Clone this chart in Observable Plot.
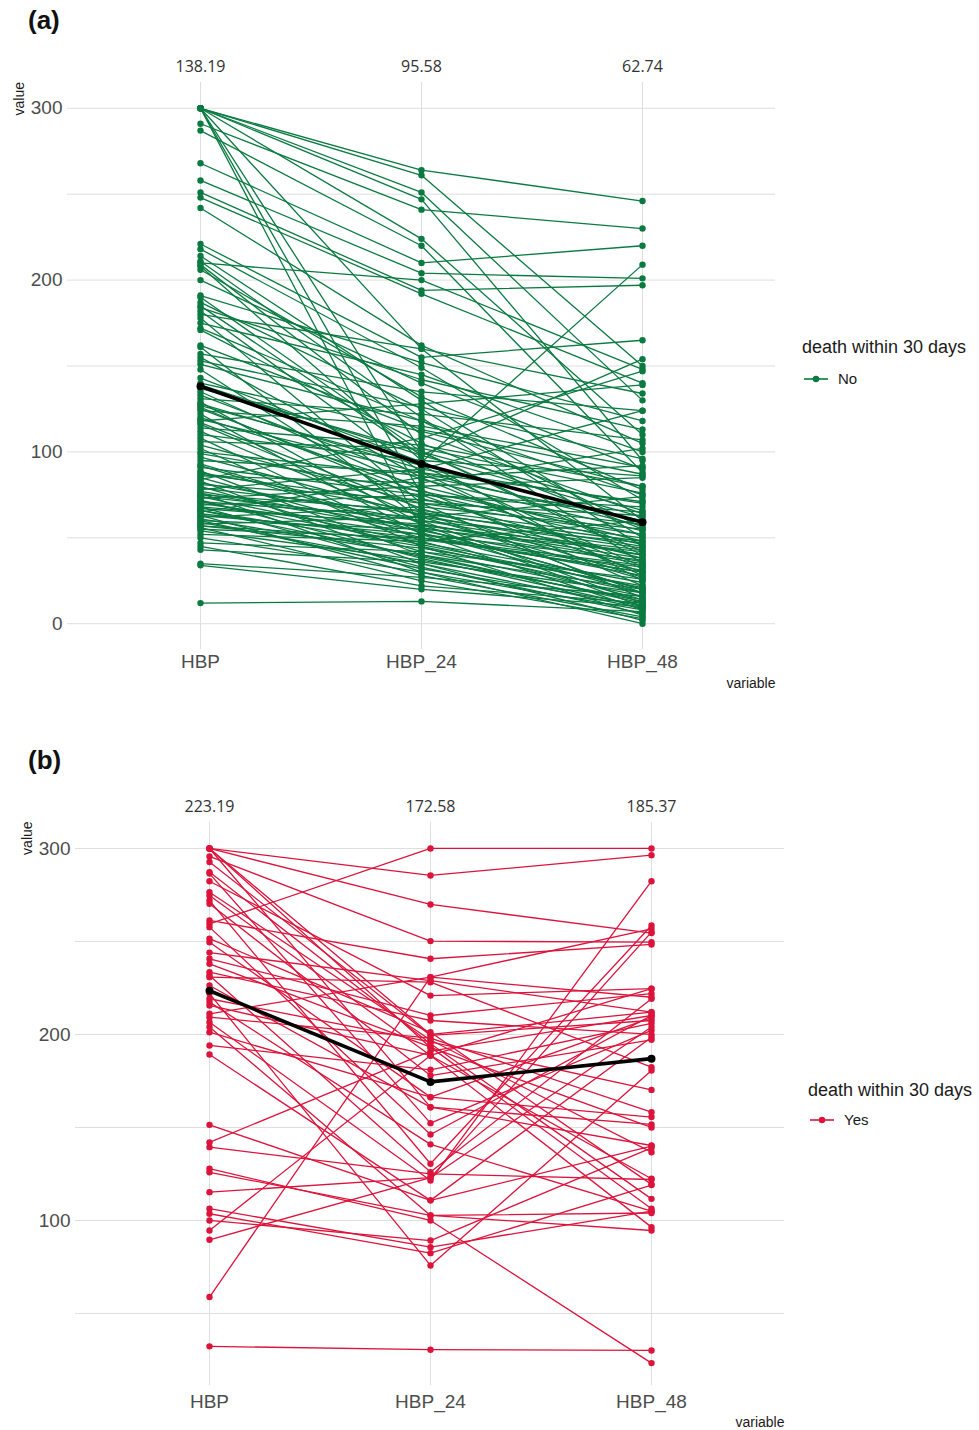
<!DOCTYPE html>
<html><head><meta charset="utf-8">
<script src="https://cdn.jsdelivr.net/npm/d3@7"></script>
<script src="https://cdn.jsdelivr.net/npm/@observablehq/plot@0.6"></script>
<style>
body{margin:0;background:#fff;font-family:"Liberation Sans",Arial,sans-serif;}
#root{position:relative;width:979px;height:1430px;overflow:hidden;}
.panel{position:absolute;left:0;}
.tag{position:absolute;left:28px;font-weight:bold;font-size:26px;line-height:26px;color:#111;}
.legtitle{position:absolute;font-size:18px;line-height:18px;color:#1a1a1a;white-space:nowrap;}
.legkey{position:absolute;font-size:15px;line-height:15px;color:#1a1a1a;display:flex;align-items:center;gap:9px;}
</style></head>
<body><div id="root"></div>
<script>
// ---------- data ----------
const variables = ["HBP", "HBP_24", "HBP_48"];

// panel (a): death within 30 days = No
const a_HBP   = [300,300,300,300,300,300,300,300,300,291,287,268,258,251,248,242,221,218,214,211,210,209,208,200,191,187,185,182,180,178,175,171,161,157,155,151,148,143,140,137,135,131,129,128,126,124,122,120,118,116,110,108,106,104,102,100,93,91,89,88,86,85,84,83,82,81,80,78,77,76,75,74,73,72,71,70,69,68,67,66,65,64,63,62,61,60,59,58,57,56,55,54,52,50,47,45,43,35,34,12,139,133,127,125,119,117,114,112,99,97,95,92,87,79,76,74,71,68,66,63,60,57,153,162,184,190,206,172];
const a_HBP24 = [264,261,251,247,224,160,100,75,55,241,220,210,204,194,192,162,155,149,130,120,200,110,95,140,152,125,98,88,160,70,145,105,60,135,85,118,65,94,112,100,78,122,58,90,73,115,52,80,128,62,95,48,102,70,45,86,55,75,40,65,82,50,108,35,60,72,42,90,56,30,66,47,80,38,62,52,75,33,58,45,85,50,28,68,40,55,35,62,44,25,50,37,48,30,42,22,36,27,20,13,98,84,92,76,88,67,104,58,77,63,88,53,70,64,54,60,46,57,39,52,32,49,126,113,142,100,132,118];
const a_HBP48 = [246,150,130,95,110,60,40,30,20,230,88,220,201,197,140,105,165,72,50,35,148,64,25,90,118,45,154,28,134,15,100,55,12,124,32,75,18,209,80,42,22,107,10,70,38,91,8,48,139,26,86,14,76,52,5,60,20,68,12,45,102,30,147,2,40,58,16,124,35,0,50,24,85,10,44,28,65,6,38,18,92,30,4,55,20,42,9,74,22,3,34,14,60,8,26,12,18,16,10,7,62,54,33,46,57,27,80,36,52,40,71,18,63,48,31,47,21,43,13,37,11,33,96,87,113,66,78,56];
const a_mean  = [138.2, 93, 59];
const a_labels = ["138.19", "95.58", "62.74"];

// panel (b): death within 30 days = Yes
const b_HBP   = [300,300,300,300,300,295.7,292.7,287.3,286.5,282.4,276.5,274.7,272,270.3,261.3,259.5,257.7,251.5,249.6,240.7,238,233.5,231.7,230.8,226.3,219.2,217.4,215.6,211.1,209.3,206.6,204,201.2,194.1,189.2,151.4,142,139.4,127.8,125.9,115.2,106.3,103.6,100,94.6,89.6,58.8,32.3,222,244];
const b_HBP24 = [285.5,269.9,200,193,160.9,250.2,199.5,195,152.3,220.9,197,188.7,130.5,177.9,240.7,300,146.2,201.2,166.3,210.2,193.2,207.5,126,228.1,160.9,196,140.9,188.7,230.8,198,121.5,102.7,166.3,181,110.8,110.8,191,125,100,102.7,123,85.6,82.4,89.2,188.7,123,230.8,30.5,75.8,229];
const b_HBP48 = [296.4,254.5,212,150,140.3,249.6,207.5,111.6,202.2,224.6,136.7,122.4,258.6,197.1,248.4,300,210.2,119.4,155.6,221.9,106.3,200,219.2,182.4,151.6,170.2,105,96.4,256.8,158.2,282.4,94.6,209,206,198.5,140,210.2,122,23.3,104,255,105,119,139,224.6,204,220,30.1,180.6,212];
const b_mean  = [223.5, 174.5, 187];
const b_labels = ["223.19", "172.58", "185.37"];

// ---------- build ----------
function longForm(h0, h24, h48) {
  const out = [];
  h0.forEach((v, i) => {
    out.push({id: i, variable: variables[0], value: v});
    out.push({id: i, variable: variables[1], value: h24[i]});
    out.push({id: i, variable: variables[2], value: h48[i]});
  });
  return out;
}

function panel(cfg) {
  const long = longForm(cfg.h0, cfg.h24, cfg.h48);
  const meanData = variables.map((v, i) => ({variable: v, value: cfg.mean[i]}));
  const labData = variables.map((v, i) => ({variable: v, label: cfg.labels[i]}));
  return Plot.plot({
    width: 979,
    height: cfg.height,
    marginTop: cfg.mt, marginBottom: cfg.mb, marginLeft: cfg.ml, marginRight: cfg.mr,
    style: {fontFamily: "'Liberation Sans', Arial, sans-serif", fontSize: "18px", background: "transparent", overflow: "visible"},
    x: {type: "point", domain: variables, padding: 0.6},
    y: {domain: cfg.ydom},
    marks: [
      Plot.gridY(cfg.grid, {stroke: "#dedede", strokeOpacity: 1, strokeWidth: 1}),
      Plot.gridX({stroke: "#dedede", strokeOpacity: 1, strokeWidth: 1}),
      Plot.axisY(cfg.ticks, {tickSize: 0, tickPadding: 5, fontSize: 19, color: "#4d4d4d", label: null}),
      Plot.axisX({tickSize: 0, tickPadding: cfg.xpad, fontSize: 19, color: "#4d4d4d", label: null}),
      Plot.line(long, {x: "variable", y: "value", z: "id", stroke: cfg.color, strokeWidth: 1.3}),
      Plot.dot(long, {x: "variable", y: "value", fill: cfg.color, r: 3.2}),
      Plot.line(meanData, {x: "variable", y: "value", stroke: "black", strokeWidth: 3.6}),
      Plot.dot(meanData, {x: "variable", y: "value", fill: "black", r: 4}),
      Plot.text(labData, {x: "variable", text: "label", frameAnchor: "top", dy: -22, fontSize: 16, fill: "#333", fontFamily: "'Open Sans', sans-serif"}),
      Plot.text(["variable"], {text: d => d, frameAnchor: "bottom-right", textAnchor: "end", dy: cfg.vdy, fontSize: 14, fill: "#1a1a1a"}),
      Plot.text(["value"], {text: d => d, frameAnchor: "top-left", rotate: -90, dx: cfg.valdx, dy: cfg.valdy, fontSize: 14, fill: "#1a1a1a"})
    ]
  });
}

const root = document.getElementById("root");

function addPanel(top, cfg, tagText, tagTop, leg) {
  const div = document.createElement("div");
  div.className = "panel";
  div.style.top = top + "px";
  div.appendChild(panel(cfg));
  root.appendChild(div);
  const tag = document.createElement("div");
  tag.className = "tag"; tag.style.top = tagTop + "px"; tag.textContent = tagText;
  root.appendChild(tag);
  const lt = document.createElement("div");
  lt.className = "legtitle"; lt.style.left = leg.x + "px"; lt.style.top = leg.ty + "px";
  lt.textContent = "death within 30 days";
  root.appendChild(lt);
  const lk = document.createElement("div");
  lk.className = "legkey"; lk.style.left = (leg.x + 1) + "px"; lk.style.top = leg.ky + "px";
  lk.innerHTML = `<svg width="26" height="10"><line x1="1" y1="5" x2="25" y2="5" stroke="${cfg.color}" stroke-width="1.6"/><circle cx="13" cy="5" r="3.2" fill="${cfg.color}"/></svg><span>${leg.label}</span>`;
  root.appendChild(lk);
}

addPanel(0, {
  h0: a_HBP, h24: a_HBP24, h48: a_HBP48, mean: a_mean, labels: a_labels,
  color: "#0b7a41", height: 700, mt: 82, mb: 51, ml: 67, mr: 204,
  ydom: [-15, 315], grid: [0,50,100,150,200,250,300], ticks: [0,100,200,300],
  xpad: 5, vdy: 38, valdx: -53, valdy: 33
}, "(a)", 7, {x: 802, ty: 338, ky: 371, label: "No"});

addPanel(740, {
  h0: b_HBP, h24: b_HBP24, h48: b_HBP48, mean: b_mean, labels: b_labels,
  color: "#dc143c", height: 690, mt: 82.4, mb: 45, ml: 75, mr: 195,
  ydom: [11.25, 313.75], grid: [50,100,150,200,250,300], ticks: [100,200,300],
  xpad: 9, vdy: 41, valdx: -53, valdy: 32
}, "(b)", 747, {x: 808, ty: 1081, ky: 1112, label: "Yes"});
</script>
</body></html>
